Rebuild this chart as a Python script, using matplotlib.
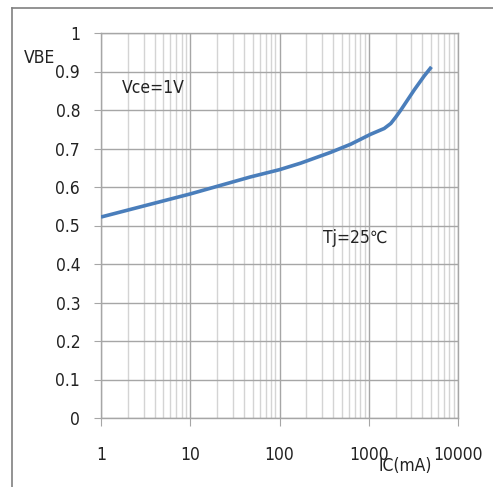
import numpy as np
import matplotlib.pyplot as plt
from matplotlib.lines import Line2D
from matplotlib.ticker import LogLocator, NullFormatter, FixedLocator

# VBE vs IC
ic_ma = [1, 10, 47, 100, 173, 374, 626, 1050, 1490, 1766, 2000, 2290, 2720,
         3230, 4170, 5040]
vbe = [0.522, 0.582, 0.626, 0.645, 0.662, 0.690, 0.711, 0.737, 0.752, 0.765,
       0.781, 0.800, 0.826, 0.852, 0.888, 0.912]

x_ticks = [1, 10, 100, 1000, 10000]
x_tick_labels = ['1', '10', '100', '1000', '10000']
y_ticks = [0, 0.1, 0.2, 0.3, 0.4, 0.5, 0.6, 0.7, 0.8, 0.9, 1]
y_tick_labels = ['0', '0.1', '0.2', '0.3', '0.4', '0.5', '0.6', '0.7', '0.8', '0.9', '1']

plt.rcParams['font.family'] = ['DejaVu Sans']
plt.rcParams['font.stretch'] = 'condensed'

W, H = 493, 487
fig = plt.figure(figsize=(W / 100, H / 100), dpi=100)
ax = fig.add_axes([101 / W, 1 - 418 / H, 357 / W, 385 / H])

ax.plot(ic_ma, vbe, color='#4a7ebb', lw=2.6, solid_capstyle='butt',
        solid_joinstyle='round', zorder=5)

ax.set_xscale('log')
ax.set_xlim(1, 10000)
ax.set_ylim(0, 1)
ax.xaxis.set_major_locator(FixedLocator(x_ticks))
ax.set_xticklabels(x_tick_labels)
ax.xaxis.set_minor_locator(LogLocator(base=10, subs=np.arange(2, 10)))
ax.xaxis.set_minor_formatter(NullFormatter())
ax.set_yticks(y_ticks)
ax.set_yticklabels(y_tick_labels)

ax.grid(which='major', color='#a6a6a6', lw=1.0)
ax.grid(which='minor', axis='x', color='#d4d4d4', lw=1.0)
ax.tick_params(which='major', axis='y', length=5, color='#a6a6a6', pad=10,
               labelsize=12.5, labelcolor='#222222')
ax.tick_params(which='major', axis='x', length=6, color='#a6a6a6', pad=14,
               labelsize=12.5, labelcolor='#222222')
ax.tick_params(which='minor', length=0)
for s in ax.spines.values():
    s.set_color('#a6a6a6')
    s.set_linewidth(1.0)

fig.text(40 / W, 1 - 58 / H, 'VBE', ha='center', va='center', fontsize=12.5, color='#222222')
fig.text(153 / W, 1 - 88 / H, 'Vce=1V', ha='center', va='center', fontsize=12.5, color='#222222')
fig.text(355 / W, 1 - 238 / H, 'Tj=25℃', ha='center', va='center', fontsize=12.5,
         color='#222222')
fig.text(405 / W, 1 - 466 / H, 'IC(mA)', ha='center', va='center', fontsize=12.5, color='#222222')

# outer frame (top and left edges visible)
fig.add_artist(Line2D([12 / W, 1], [1 - 8 / H, 1 - 8 / H], color='#808080', lw=1.2))
fig.add_artist(Line2D([12 / W, 12 / W], [0, 1 - 8 / H], color='#808080', lw=1.2))

fig.savefig('out.png', dpi=100)
